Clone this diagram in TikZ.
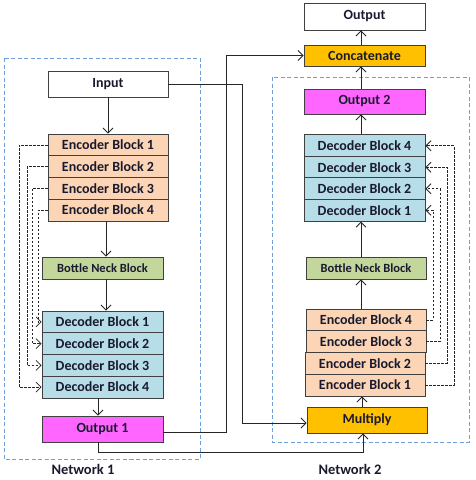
\documentclass[tikz,border=0pt]{standalone}
\usepackage{fontspec}
\setmainfont{Carlito}
\usetikzlibrary{arrows.meta,calc}
\definecolor{encC}{HTML}{FBD5B5}
\definecolor{decC}{HTML}{B7DEE8}
\definecolor{bnC}{HTML}{C3D69B}
\definecolor{magC}{HTML}{FF66FF}
\definecolor{goldC}{HTML}{FFC000}
\definecolor{netC}{HTML}{6F9FDB}
\definecolor{edgeC}{HTML}{404040}
\definecolor{txtC}{HTML}{1A1A2E}
\begin{document}
\begin{tikzpicture}[x=1pt,y=-1pt,
  blk/.style={draw=edgeC,line width=0.9pt,minimum width=121pt,inner sep=0pt,text=txtC,font=\fontsize{14}{16}\selectfont\bfseries},
  enc/.style={blk,fill=encC,minimum height=21.75pt},
  dec/.style={blk,fill=decC,minimum height=21.75pt},
  bneck/.style={blk,fill=bnC,minimum height=22pt,font=\fontsize{12.5}{14}\selectfont\bfseries},
  arr/.style={draw=black!85,line width=0.9pt,-{Straight Barb[length=5pt,width=10pt]}},
  skip/.style={arr,dash pattern=on 2.5pt off 1.5pt,line width=0.8pt},
  net/.style={draw=netC,line width=0.9pt,dash pattern=on 4pt off 2.5pt},
  lbl/.style={text=txtC,font=\fontsize{14.5}{16}\selectfont\bfseries}]
\useasboundingbox (0,0) rectangle (475,480);
% network boxes
\draw[net] (4,58) rectangle (200,459);
\draw[net] (272,77) rectangle (469,442);
\node[lbl] (n1) at (83,469) {Network 1};
\node[lbl] (n2) at (350,469) {Network 2};
% left network
\node[blk,fill=white,minimum width=120pt,minimum height=26pt] (in) at (108,84) {Input};
\node[enc,minimum width=120pt] (e1) at (108,144.9) {Encoder Block 1};
\node[enc,minimum width=120pt] (e2) at (108,166.6) {Encoder Block 2};
\node[enc,minimum width=120pt] (e3) at (108,188.4) {Encoder Block 3};
\node[enc,minimum width=120pt] (e4) at (108,210.1) {Encoder Block 4};
\node[bneck] (bn1) at (102.5,268) {Bottle Neck Block};
\node[dec] (d1) at (102.5,321.9) {Decoder Block 1};
\node[dec] (d2) at (102.5,343.6) {Decoder Block 2};
\node[dec] (d3) at (102.5,365.4) {Decoder Block 3};
\node[dec] (d4) at (102.5,387.1) {Decoder Block 4};
\node[blk,fill=magC,minimum height=26pt] (o1) at (102.5,429) {Output 1};
% right network
\node[blk,fill=white,minimum height=27pt] (out) at (364.5,16.5) {Output};
\node[blk,fill=goldC,minimum height=21pt] (cat) at (364.5,55.5) {Concatenate};
\node[blk,fill=magC,minimum height=25pt] (o2) at (364.5,101.5) {Output 2};
\node[dec] (D4) at (364.5,145.75) {Decoder Block 4};
\node[dec] (D3) at (364.5,167.25) {Decoder Block 3};
\node[dec] (D2) at (364.5,188.75) {Decoder Block 2};
\node[dec] (D1) at (364.5,210.25) {Decoder Block 1};
\node[bneck,minimum width=120pt] (bn2) at (366,268) {Bottle Neck Block};
\node[enc,minimum width=120pt] (E4) at (366,319.9) {Encoder Block 4};
\node[enc,minimum width=120pt] (E3) at (366,341.6) {Encoder Block 3};
\node[enc,minimum width=120pt] (E2) at (365,363.4) {Encoder Block 2};
\node[enc,minimum width=120pt] (E1) at (365,385.1) {Encoder Block 1};
\node[blk,fill=goldC,minimum width=120pt,minimum height=26pt] (mul) at (367,420) {Multiply};
% helper coordinates
\coordinate (cx1) at (242,0);
\coordinate (cx2) at (226,0);
\coordinate (mulW) at ([yshift=-3pt]mul.west);
\coordinate (mulS) at ([xshift=-4pt]mul.south);
\coordinate (o1E) at ([yshift=-3pt]o1.east);
\coordinate (o1S) at ([xshift=-4.5pt]o1.south);
% left main flow
\draw[arr] (in.south) -- (e1.north);
\draw[arr] ([xshift=-2pt]e4.south) -- ([xshift=-2pt]e4.south |- bn1.north);
\draw[arr] ([xshift=3.5pt]bn1.south) -- ([xshift=3.5pt]bn1.south |- d1.north);
\draw[arr] ([xshift=-4.5pt]d4.south) -- ([xshift=-4.5pt]d4.south |- o1.north);
% cross connections
\draw[arr] (in.east) -| (cx1 |- mulW) -- (mulW);
\draw[arr] (o1E) -| (cx2 |- cat.west) -- (cat.west);
\draw[arr] (o1S) -- ++(0,10) -| (mulS);
% right main flow
\draw[arr] ([xshift=-5pt]mul.north) -- ([xshift=-5pt]mul.north |- E1.south);
\draw[arr] ([xshift=-5pt]E4.north) -- ([xshift=-5pt]E4.north |- bn2.south);
\draw[arr] ([xshift=-5pt]bn2.north) -- ([xshift=-5pt]bn2.north |- D1.south);
\draw[arr] ([xshift=-3.5pt]D4.north) -- ([xshift=-3.5pt]D4.north |- o2.south);
\draw[arr] ([xshift=-3.5pt]o2.north) -- ([xshift=-3.5pt]o2.north |- cat.south);
\draw[arr] ([xshift=-3.5pt]cat.north) -- ([xshift=-3.5pt]cat.north |- out.south);
% left skip connections
\coordinate (sl1) at (19,0);
\coordinate (sl2) at (27,0);
\coordinate (sl3) at (32,0);
\coordinate (sl4) at (38,0);
\draw[skip] (e1.west) -| (sl1 |- d4.west) -- (d4.west);
\draw[skip] (e2.west) -| (sl2 |- d3.west) -- (d3.west);
\draw[skip] (e3.west) -| (sl3 |- d2.west) -- (d2.west);
\draw[skip] (e4.west) -| (sl4 |- d1.west) -- (d1.west);
% right skip connections
\coordinate (sr1) at (454,0);
\coordinate (sr2) at (447,0);
\coordinate (sr3) at (440,0);
\coordinate (sr4) at (433,0);
\draw[skip] (E1.east) -| (sr1 |- D4.east) -- (D4.east);
\draw[skip] (E2.east) -| (sr2 |- D3.east) -- (D3.east);
\draw[skip] (E3.east) -| (sr3 |- D2.east) -- (D2.east);
\draw[skip] (E4.east) -| (sr4 |- D1.east) -- (D1.east);
\end{tikzpicture}
\end{document}
